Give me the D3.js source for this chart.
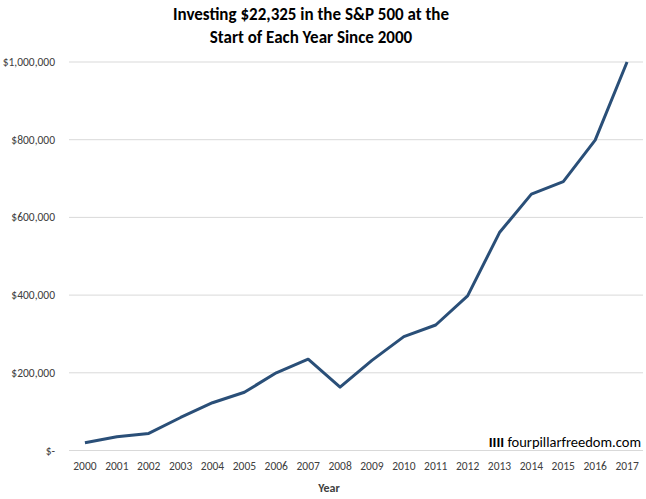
<!DOCTYPE html>
<html><head><meta charset="utf-8">
<script src="https://cdn.jsdelivr.net/npm/d3@7"></script>
<style>body{margin:0;background:#fff}svg{display:block}</style>
</head><body>
<script>
const years = ["2000","2001","2002","2003","2004","2005","2006","2007","2008","2009","2010","2011","2012","2013","2014","2015","2016","2017"];
const values = [20000,35500,44000,85000,123000,150000,200000,235000,163000,232000,293000,323000,398000,561000,660000,692000,799000,1000000];
const yTicks = [0,200000,400000,600000,800000,1000000];
const titleLines = ["Investing $22,325 in the S&P 500 at the","Start of Each Year Since 2000"];
const xTitle = "Year";
const watermarkMark = "IIII";
const watermarkText = " fourpillarfreedom.com";

const W=646,H=499;
const m={left:69,right:643,top:62,bottom:450.5};
const font="Carlito, Calibri, Lato, 'Open Sans', sans-serif";
const svg=d3.select("body").append("svg").attr("width",W).attr("height",H);
const x=d3.scalePoint().domain(years).range([m.left,m.right]).padding(0.5);
const y=d3.scaleLinear().domain([0,1000000]).range([m.bottom,m.top]);

svg.append("g").selectAll("line").data(yTicks).join("line")
 .attr("x1",m.left).attr("x2",m.right).attr("y1",d=>y(d)).attr("y2",d=>y(d))
 .attr("stroke","#d9d9d9").attr("stroke-width",1);

const fmt=d=>d===0?"$-":"$"+d3.format(",")(d);
svg.append("g").selectAll("text").data(yTicks).join("text")
 .attr("x",55).attr("y",d=>y(d)+4).attr("text-anchor","end")
 .attr("font-family",font).attr("font-size",11.5).attr("fill","#404040").text(fmt);

svg.append("g").selectAll("text").data(years).join("text")
 .attr("x",d=>x(d)).attr("y",470).attr("text-anchor","middle")
 .attr("font-family",font).attr("font-size",11.5).attr("fill","#404040").text(d=>d);

svg.append("text").attr("x",329).attr("y",492).attr("text-anchor","middle")
 .attr("font-family",font).attr("font-size",12).attr("font-weight","bold").attr("fill","#404040").text(xTitle);

svg.append("g").selectAll("text").data(titleLines).join("text")
 .attr("x",311).attr("y",(d,i)=>20+i*23).attr("text-anchor","middle")
 .attr("font-family",font).attr("font-size",17).attr("font-weight","bold").attr("fill","#000").text(d=>d);

svg.append("path").datum(values)
 .attr("d",d3.line().x((d,i)=>x(years[i])).y(d=>y(d)))
 .attr("fill","none").attr("stroke","#2a4f78").attr("stroke-width",3).attr("stroke-linejoin","round");

const wm=svg.append("text").attr("x",641).attr("y",447).attr("text-anchor","end")
 .attr("font-family",font).attr("font-size",14.5).attr("fill","#000");
wm.append("tspan").attr("font-weight","bold").text(watermarkMark);
wm.append("tspan").text(watermarkText);
</script>
</body></html>
